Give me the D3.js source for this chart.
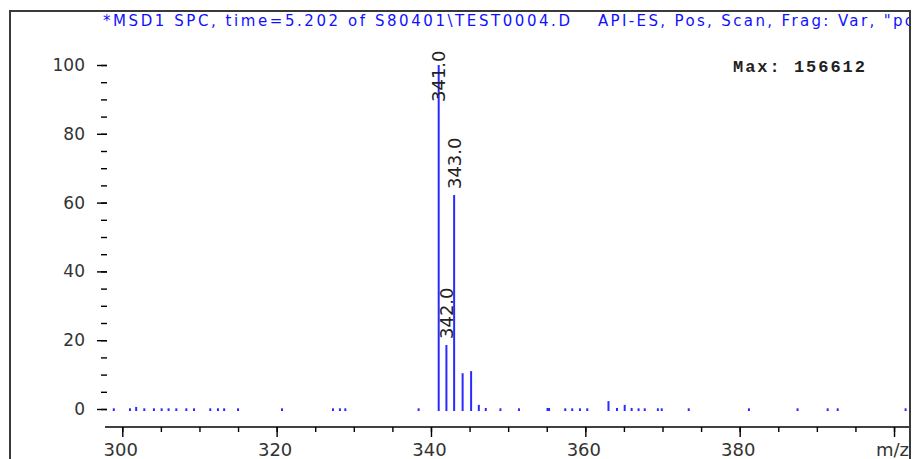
<!DOCTYPE html>
<html><head><meta charset="utf-8">
<script src="https://cdn.jsdelivr.net/npm/d3@7"></script>
<style>html,body{margin:0;padding:0;background:#fff;overflow:hidden}</style>
</head><body>
<script>
// ---- data ----
const titleLeft = "*MSD1 SPC, time=5.202 of S80401\\TEST0004.D";
const titleRight = "API-ES, Pos, Scan, Frag: Var, \"po";
const maxText = "Max:  156612";
const mzValues = [298.9, 301.0, 301.8, 302.85, 304.1, 305.1, 306.0, 307.0, 308.3, 309.3, 311.4, 312.4, 313.2, 315.0,
  320.7, 327.3, 328.2, 328.9, 338.4,
  341.0, 342.0, 343.0, 344.1, 345.2, 346.2,
  347.1, 349.0, 351.4, 355.1, 355.3, 357.4, 358.3, 359.3, 360.25,
  363.0, 364.1, 365.1, 366.0, 366.9, 367.7, 369.4, 369.9, 373.4, 381.2, 387.5, 391.4, 392.7, 401.5];
const intensities = [0.2, 0.2, 0.6, 0.2, 0.2, 0.2, 0.2, 0.2, 0.2, 0.2, 0.2, 0.2, 0.2, 0.2,
  0.2, 0.2, 0.2, 0.2, 0.2,
  100, 18.6, 62.2, 10.4, 11.0, 1.2,
  0.3, 0.2, 0.2, 0.3, 0.3, 0.2, 0.2, 0.2, 0.2,
  2.3, 0.3, 1.2, 0.3, 0.2, 0.2, 0.2, 0.2, 0.2, 0.2, 0.2, 0.2, 0.2, 0.2];
const labeledPeaks = [341.0, 342.0, 343.0];
const yMajorTicks = [0, 20, 40, 60, 80, 100];
const yMinorTicks = d3.range(0, 101, 5);
const xMajorTicks = [300, 320, 340, 360, 380, 400];
const xMinorTicks = d3.range(300, 401, 5);
const xAxisName = "m/z";

// ---- drawing ----
const W = 915, H = 459;
const svg = d3.select("body").append("svg").attr("width", W).attr("height", H);
const blue = "#2a2aff";

// scales
const x = d3.scaleLinear().domain([298.02, 402.07]).range([107, 910]);
const y = d3.scaleLinear().domain([-5.233, 103.78]).range([427, 52]);

// frame
svg.append("rect").attr("x", 10).attr("y", 11).attr("width", 900).attr("height", 460)
  .attr("fill", "none").attr("stroke", "#3a3a3a").attr("stroke-width", 2);

svg.append("clipPath").attr("id", "frameclip").append("rect")
  .attr("x", 11).attr("y", 12).attr("width", 898).attr("height", 460);

const inner = svg.append("g").attr("clip-path", "url(#frameclip)");

// title
inner.append("text").attr("x", 103).attr("y", 26)
  .attr("font-family", "'DejaVu Sans', Verdana, sans-serif").attr("font-size", 15)
  .attr("fill", "#1010ff").attr("textLength", 467).attr("lengthAdjust", "spacing")
  .text(titleLeft);
inner.append("text").attr("x", 598).attr("y", 26)
  .attr("font-family", "'DejaVu Sans', Verdana, sans-serif").attr("font-size", 15)
  .attr("fill", "#1010ff").attr("textLength", 316).attr("lengthAdjust", "spacing")
  .text(titleRight);

// Max text
inner.append("text").attr("x", 733).attr("y", 72)
  .attr("font-family", "'Liberation Mono', 'DejaVu Sans Mono', monospace").attr("font-size", 17)
  .attr("font-weight", "bold").attr("fill", "#222")
  .attr("textLength", 132).attr("lengthAdjust", "spacing")
  .text(maxText);

// y axis
const yAxis = inner.append("g").attr("transform", "translate(107,0)");
yAxis.call(d3.axisLeft(y).tickValues(yMinorTicks).tickSize(6).tickSizeOuter(0).tickFormat(""));
yAxis.append("g").call(d3.axisLeft(y).tickValues(yMajorTicks).tickSize(10).tickSizeOuter(0).tickPadding(12));
yAxis.selectAll("path.domain").attr("stroke", "#000").attr("stroke-width", 1.6);
yAxis.selectAll(".tick line").attr("stroke", "#000").attr("stroke-width", 1.4);
yAxis.selectAll(".tick text").attr("font-family", "'DejaVu Sans', sans-serif").attr("font-size", 17).attr("fill", "#333");
yAxis.selectAll("g > g > path.domain").remove();

// x axis
const xAxis = inner.append("g").attr("transform", "translate(0,427)");
xAxis.call(d3.axisBottom(x).tickValues(xMinorTicks).tickSize(5).tickSizeOuter(0).tickFormat(""));
const xMaj = xAxis.append("g").call(d3.axisBottom(x).tickValues(xMajorTicks).tickSize(10).tickSizeOuter(0)
  .tickFormat(d => d === 400 ? xAxisName : d));
xMaj.select("path.domain").remove();
xAxis.select("path.domain").attr("d", `M105,0H910`);
xAxis.selectAll("path.domain").attr("stroke", "#000").attr("stroke-width", 1.6);
xAxis.selectAll(".tick line").attr("stroke", "#000").attr("stroke-width", 1.4);
xAxis.selectAll(".tick text").attr("font-family", "'DejaVu Sans', sans-serif").attr("font-size", 18)
  .attr("fill", "#333").attr("dy", null).attr("y", 29).attr("x", -2);

// spectrum lines
const peaks = mzValues.map((m, i) => ({ m, v: intensities[i] }));
inner.append("g").selectAll("line").data(peaks).join("line")
  .attr("x1", d => x(d.m)).attr("x2", d => x(d.m))
  .attr("y1", y(0) + 2).attr("y2", d => y(d.v))
  .attr("stroke", blue).attr("stroke-width", 2);

// peak labels
const labelLen = 52;
const labelTopLimit = 50;
inner.append("g").selectAll("text").data(peaks.filter(p => labeledPeaks.includes(p.m))).join("text")
  .attr("transform", d => {
    let bottom = Math.max(y(d.v) - 6, labelTopLimit + labelLen);
    return `translate(${x(d.m)},${bottom}) rotate(-90)`;
  })
  .attr("dominant-baseline", "central")
  .attr("font-family", "'DejaVu Sans', sans-serif").attr("font-size", 18).attr("fill", "#222")
  .text(d => d.m.toFixed(1));
</script>
</body></html>
